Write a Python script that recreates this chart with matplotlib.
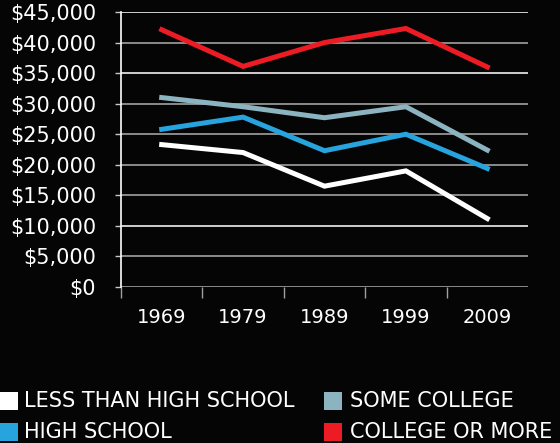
import matplotlib
matplotlib.use('Agg')
import matplotlib.pyplot as plt
from matplotlib.patches import Rectangle
from matplotlib.ticker import FuncFormatter

# median earnings by education level
years = ['1969', '1979', '1989', '1999', '2009']
less_than_high_school = [23300, 22000, 16500, 19000, 11200]
high_school = [25800, 27800, 22300, 25000, 19400]
some_college = [31000, 29500, 27700, 29500, 22400]
college_or_more = [42100, 36100, 40000, 42300, 36000]

series_labels = ['LESS THAN HIGH SCHOOL', 'HIGH SCHOOL', 'SOME COLLEGE', 'COLLEGE OR MORE']
series_colors = ['#ffffff', '#27a3dd', '#8bb3c0', '#ed1c24']

plt.rcParams['font.family'] = ['DejaVu Sans']
bg = '#050505'
W, H = 560, 443

fig = plt.figure(figsize=(W / 100, H / 100), dpi=100, facecolor=bg)
ax = fig.add_axes([121 / W, 1 - 287 / H, 407 / W, 275 / H], facecolor=bg)

x = [i + 0.5 for i in range(len(years))]
for values, color in zip([less_than_high_school, high_school, some_college, college_or_more], series_colors):
    ax.plot(x, values, color=color, lw=3.6, solid_joinstyle='miter', zorder=3)

ax.set_xlim(0, len(years))
ax.set_ylim(0, 45000)
ax.set_yticks(range(0, 45001, 5000))
ax.yaxis.set_major_formatter(FuncFormatter(lambda v, _: '${:,.0f}'.format(v)))
ax.set_xticks(range(len(years)))
ax.set_xticklabels([])
ax.set_xticks(x, minor=True)
ax.set_xticklabels(years, minor=True)

ax.grid(axis='y', lw=1.2, zorder=1)
grid_colors = ['#a0a0a0', '#a0a0a0', '#f0f0f0', '#a0a0a0', '#a0a0a0', '#a0a0a0',
               '#a0a0a0', '#f0f0f0', '#a0a0a0', '#f0f0f0']
for line, c in zip(ax.get_ygridlines(), grid_colors):
    line.set_color(c)

for side in ['top', 'right', 'bottom']:
    ax.spines[side].set_visible(False)
ax.spines['left'].set_color('white')
ax.spines['left'].set_linewidth(1.2)

ax.tick_params(axis='y', colors='#c8c8c8', length=4, width=1, labelcolor='white',
               labelsize=15, pad=14)
ax.tick_params(axis='x', which='major', colors='#a0a0a0', length=8, width=1, direction='out')
ax.tick_params(axis='x', which='minor', length=0, labelcolor='white', labelsize=14, pad=15)

# legend: two columns of colour squares with labels
legend_cols = [(0, 24), (324, 350)]
legend_rows = [401, 432]
for i, (label, color) in enumerate(zip(series_labels, series_colors)):
    (sx, tx), cy = legend_cols[i // 2], legend_rows[i % 2]
    fig.add_artist(Rectangle((sx / W, 1 - (cy + 9) / H), 18 / W, 18 / H,
                             transform=fig.transFigure, facecolor=color, edgecolor='none'))
    fig.text(tx / W, 1 - cy / H, label, color='white', fontsize=15, ha='left', va='center')

fig.savefig('out.png', dpi=100, facecolor=bg)
